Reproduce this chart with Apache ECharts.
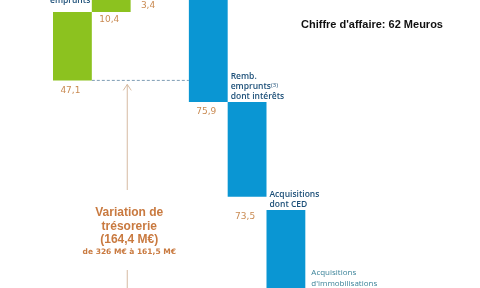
<!DOCTYPE html>
<html><head><meta charset="utf-8">
<script src="https://cdn.jsdelivr.net/npm/echarts@6.0.0/dist/echarts.min.js"></script>
<style>html,body{margin:0;padding:0;background:#fff}#c{width:480px;height:288px}</style>
</head><body><div id="c"></div>
<script>
// ---- data ----
const categories = ["Nouveaux emprunts", "Autres ressources", "Autres", "Remb. emprunts dont intérêts", "Acquisitions dont CED", "Acquisitions d'immobilisations"];
const columns = [0, 1, 2, 3.5, 4.5, 5.5];
const barLow = [173, 230, 242, 155, 76, -30];
const barHigh = [230, 242, 258, 262, 155, 65];
const valueLabels = ["47,1", "10,4", "3,4", "75,9", "73,5", ""];
const barKind = ["in", "in", "in", "out", "out", "out"];
const referenceLevel = 173;
const titleText = "Chiffre d'affaire: 62 Meuros";
const variationLines = ["Variation de", "trésorerie", "(164,4 M€)"];
const variationSub = "de 326 M€ à 161,5 M€";

// ---- layout / styles ----
const colors = { in: "#8cc21f", out: "#0a96d3" };
const labelColor = "#c98a52";
const descColor = "#1c4f78";
const valueDy = [10, 8, 8, 10, 20, 10];
const descLayout = [
  { text: "Nouveaux\nemprunts", anchor: "topLeft", dx: -3, dy: -6, align: "left", v: "bottom" },
  null,
  null,
  { text: "Remb.\nemprunts{sup|(3)}\ndont intérêts", anchor: "bottomRight", dx: 3, dy: 0, align: "left", v: "bottom" },
  { text: "Acquisitions\ndont CED", anchor: "bottomRight", dx: 3, dy: -7, align: "left", v: "top" },
  { text: "Acquisitions\nd'immobilisations", anchor: "topRight", dx: 6, dy: 57, align: "left", v: "top", light: true }
];

const chart = echarts.init(document.getElementById('c'), null, { renderer: 'canvas' });
const barData = categories.map((c, i) => ({ name: c, value: [columns[i], barLow[i], barHigh[i]] }));

chart.setOption({
  animation: false,
  grid: { left: 53, right: 0, top: 0, bottom: 0 },
  xAxis: { type: 'value', min: 0, max: 11, show: false },
  yAxis: { type: 'value', min: 0, max: 240, show: false },
  series: [
    {
      type: 'line',
      data: [[1, referenceLevel], [3.5, referenceLevel]],
      symbol: 'none',
      lineStyle: { color: '#7f9db5', width: 1, type: [3, 2] },
      z: 1
    },
    {
      type: 'custom',
      data: barData,
      z: 2,
      renderItem(params, api) {
        const i = params.dataIndex;
        const col = api.value(0), lo = api.value(1), hi = api.value(2);
        const p0 = api.coord([col, hi]);
        const p1 = api.coord([col + 1, lo]);
        const x = p0[0], y = p0[1], w = p1[0] - p0[0], h = p1[1] - p0[1];
        const children = [{
          type: 'rect', shape: { x, y, width: w, height: h },
          style: { fill: colors[barKind[i]] }
        }];
        if (valueLabels[i]) {
          children.push({
            type: 'text',
            style: {
              x: x + w / 2 - 2, y: y + h + valueDy[i], text: valueLabels[i],
              align: 'center', verticalAlign: 'middle',
              font: '9px "DejaVu Sans"', fill: labelColor
            }
          });
        }
        const d = descLayout[i];
        if (d) {
          let ax = x, ay = y;
          if (d.anchor === 'bottomRight') { ax = x + w; ay = y + h; }
          if (d.anchor === 'topRight') { ax = x + w; ay = y; }
          children.push({
            type: 'text',
            style: {
              x: ax + d.dx, y: ay + d.dy, text: d.text,
              align: d.align, verticalAlign: d.v,
              font: d.light ? '8px "Open Sans"' : '600 8.5px "Open Sans"',
              fill: d.light ? '#3a8298' : descColor,
              lineHeight: d.light ? 11 : 10,
              rich: { sup: { fontSize: 6, verticalAlign: 'top', fill: descColor, fontFamily: 'Open Sans', lineHeight: 10, padding: [0, 0, 4, 0] } }
            }
          });
        }
        return { type: 'group', children };
      }
    }
  ]
});

// annotations positioned through the chart's scales
const ref = chart.convertToPixel({ seriesIndex: 0 }, [1.9, referenceLevel]);
const ax = ref[0] + 0.5;
const arrowTop = ref[1] + 4;
const arrowColor = '#d6bba2';
const varColor = '#c97a40';
chart.setOption({
  graphic: [
    { type: 'line', shape: { x1: ax, y1: arrowTop, x2: ax, y2: 190 }, style: { stroke: arrowColor, lineWidth: 1 } },
    { type: 'polyline', shape: { points: [[ax - 4, arrowTop + 6], [ax, arrowTop], [ax + 4, arrowTop + 6]] }, style: { stroke: arrowColor, lineWidth: 1, fill: null } },
    { type: 'line', shape: { x1: ax, y1: 270, x2: ax, y2: 300 }, style: { stroke: arrowColor, lineWidth: 1 } },
    { type: 'text', x: ax + 2, y: 206, style: { text: variationLines.join('\n'), align: 'center', verticalAlign: 'top', font: 'bold 12px "Liberation Sans"', lineHeight: 13.5, fill: varColor } },
    { type: 'text', x: ax + 2, y: 248, style: { text: variationSub, align: 'center', verticalAlign: 'top', font: 'bold 7.5px "DejaVu Sans"', fill: varColor } },
    { type: 'text', left: 301, top: 19, style: { text: titleText, font: 'bold 11px "Liberation Sans"', fill: '#111' } }
  ]
});
</script>
</body></html>
